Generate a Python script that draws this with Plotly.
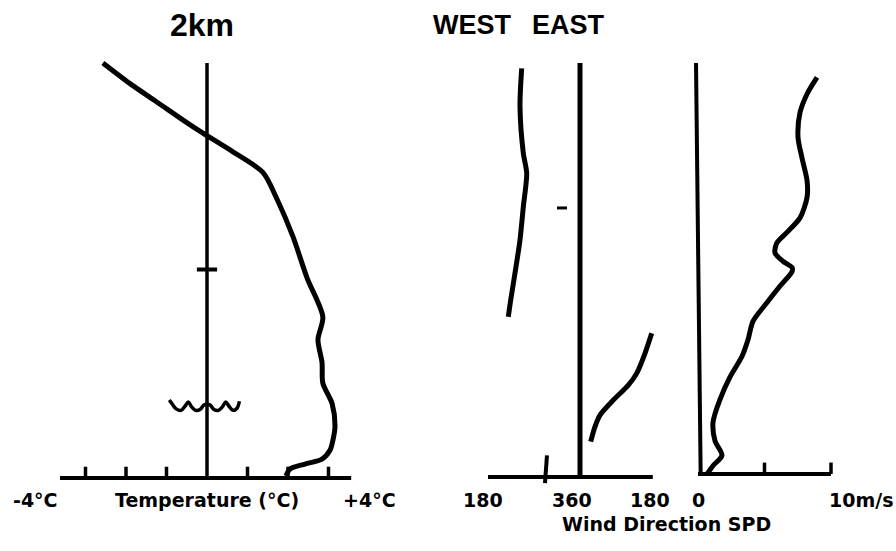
import plotly.graph_objects as go

# ---------------- data ----------------
# altitude in km
temp_c = [-2.57, -1.90, -1.23, -0.49, -0.10, 0.64, 1.38, 1.73, 2.12, 2.47, 2.86, 2.74,
          2.84, 2.86, 3.09, 3.16, 3.11, 3.04, 2.84, 2.42, 2.05, 1.95]
temp_z = [2.00, 1.90, 1.81, 1.71, 1.66, 1.57, 1.47, 1.34, 1.16, 0.96, 0.77, 0.66,
          0.55, 0.45, 0.35, 0.24, 0.174, 0.126, 0.082, 0.058, 0.034, 0.0]

west_dir = [245.9, 242.6, 249.1, 255.7, 249.1, 242.6, 232.8, 224.4, 219.7]
west_z = [1.974, 1.789, 1.563, 1.466, 1.304, 1.143, 0.982, 0.852, 0.771]

east_dir = [179.2, 162.5, 141.7, 120.8, 83.3, 50.0, 37.5, 26.7]
east_z = [0.691, 0.594, 0.497, 0.440, 0.368, 0.295, 0.239, 0.166]

speed_ms = [8.95, 8.20, 7.67, 7.52, 7.82, 8.20, 8.20, 7.67, 6.69, 5.94, 5.79, 6.39, 7.07,
            7.07, 6.17, 5.19, 4.14, 3.76, 3.31, 2.41, 1.65, 1.13, 1.28, 1.80, 1.13, 0.68]
speed_z = [1.93, 1.85, 1.76, 1.64, 1.54, 1.43, 1.35, 1.25, 1.18, 1.13, 1.08, 1.04, 1.01,
           0.99, 0.92, 0.84, 0.75, 0.66, 0.58, 0.48, 0.37, 0.26, 0.17, 0.10, 0.05, 0.01]

# small marks on the direction panel
dash_dir = [315.0, 334.6]
dash_z = [1.298, 1.298]
sfc_dir = [291.5, 295.4]
sfc_z = [-0.034, 0.10]

# marks on the temperature axis
km_tick_t = [-0.25, 0.25]
km_tick_z = [1.0, 1.0]
wave_t = [-0.93, -0.86, -0.76, -0.64, -0.54, -0.46, -0.38, -0.28, -0.17, -0.07,
          0.07, 0.17, 0.28, 0.38, 0.46, 0.54, 0.64, 0.74, 0.80]
wave_z = [0.368, 0.349, 0.325, 0.318, 0.339, 0.358, 0.335, 0.318, 0.322, 0.344,
          0.344, 0.322, 0.318, 0.335, 0.358, 0.339, 0.318, 0.328, 0.362]

temp_ticks = [-3, -2, -1, 1, 2, 3]
speed_ticks = [5, 10]

top_km = 2.0
temp_span = [-3.63, 3.56]
west_span = [180, 360]
east_span = [0, 182]
speed_span = [0, 10]

# ---------------- figure ----------------
W, H = 896, 551
BLACK = "#000000"
fig = go.Figure()


def line(x, y, xa, width, smooth=0.8):
    fig.add_trace(go.Scatter(x=x, y=y, xaxis=xa, yaxis="y", mode="lines",
                             line=dict(color=BLACK, width=width, shape="spline",
                                       smoothing=smooth),
                             hoverinfo="skip", showlegend=False))


# temperature panel
line([0, 0], [0, top_km], "x", 3.5)
line(temp_span, [-0.01, -0.01], "x", 4)
for t in temp_ticks:
    line([t, t], [-0.01, 0.045], "x", 3.5)
line(km_tick_t, km_tick_z, "x", 4)
line(wave_t, wave_z, "x", 3.5, 1.0)
line(temp_c, temp_z, "x", 5)

# wind direction panel
line([360, 360], [-0.005, top_km], "x2", 5)
line(west_span, [-0.005, -0.005], "x2", 4)
line(east_span, [-0.005, -0.005], "x3", 4)
line(west_dir, west_z, "x2", 5)
line(dash_dir, dash_z, "x2", 3)
line(sfc_dir, sfc_z, "x2", 4)
line(east_dir, east_z, "x3", 5)

# wind speed panel
line([-0.15, 0.2], [top_km, 0.01], "x4", 4)
line(speed_span, [0.01, 0.01], "x4", 4)
for s in speed_ticks:
    line([s, s], [0.01, 0.065], "x4", 3.5)
line(speed_ms, speed_z, "x4", 5)

# pixel scales of each hand-drawn axis (layout only)
y_px_per_km, y_base = 206.5, 476
t_px, t_zero = 40.5, 207
wd_px, wd_180 = 0.5111, 488
ed_px, ed_0 = 0.4, 580
sp_px, sp_0 = 13.3, 698


def rng(px_per_unit, px_at, val_at):
    return [val_at - px_at / px_per_unit, val_at + (W - px_at) / px_per_unit]


ax = dict(visible=False, fixedrange=True, domain=[0, 1])
fig.update_layout(
    width=W, height=H, margin=dict(l=0, r=0, t=0, b=0),
    paper_bgcolor="white", plot_bgcolor="white",
    xaxis=dict(ax, range=rng(t_px, t_zero, 0)),
    xaxis2=dict(ax, range=rng(wd_px, wd_180, 180), overlaying="x"),
    xaxis3=dict(ax, range=rng(ed_px, ed_0, 0), overlaying="x"),
    xaxis4=dict(ax, range=rng(sp_px, sp_0, 0), overlaying="x"),
    yaxis=dict(visible=False, fixedrange=True,
               range=[-(H - y_base) / y_px_per_km, y_base / y_px_per_km]),
    showlegend=False,
)

lab_font = dict(family="DejaVu Sans", size=19, color=BLACK, weight="bold")
head_font = dict(family="Liberation Sans, Arial", size=27, color=BLACK, weight="bold")
km_font = dict(head_font, size=32)


def ann(text, x, xref, y, font, xshift=0, xanchor="center"):
    fig.add_annotation(text=text, x=x, xref=xref, y=y, yref="paper", showarrow=False,
                       font=font, xanchor=xanchor, yanchor="middle", xshift=xshift)


yl = 1 - 500 / H
ann("-4°C", -4, "x", yl, lab_font, xshift=-10)
ann("Temperature (°C)", 0, "x", yl, lab_font)
ann("+4°C", 4, "x", yl, lab_font)
ann("180", 180, "x2", yl, lab_font, xshift=-5)
ann("360", 360, "x2", yl, lab_font, xshift=-8)
ann("180", 180, "x3", yl, lab_font, xshift=-2)
ann("0", 0, "x4", yl, lab_font)
ann("10m/s", 10, "x4", yl, lab_font, xshift=-4, xanchor="left")
ann("Wind Direction SPD", 666 / W, "paper", 1 - 524 / H, lab_font)

yh = 1 - 25 / H
ann("2km", 202 / W, "paper", yh, km_font)
ann("WEST", 472 / W, "paper", yh, head_font)
ann("EAST", 568 / W, "paper", yh, head_font)

fig.write_html("out.html")
